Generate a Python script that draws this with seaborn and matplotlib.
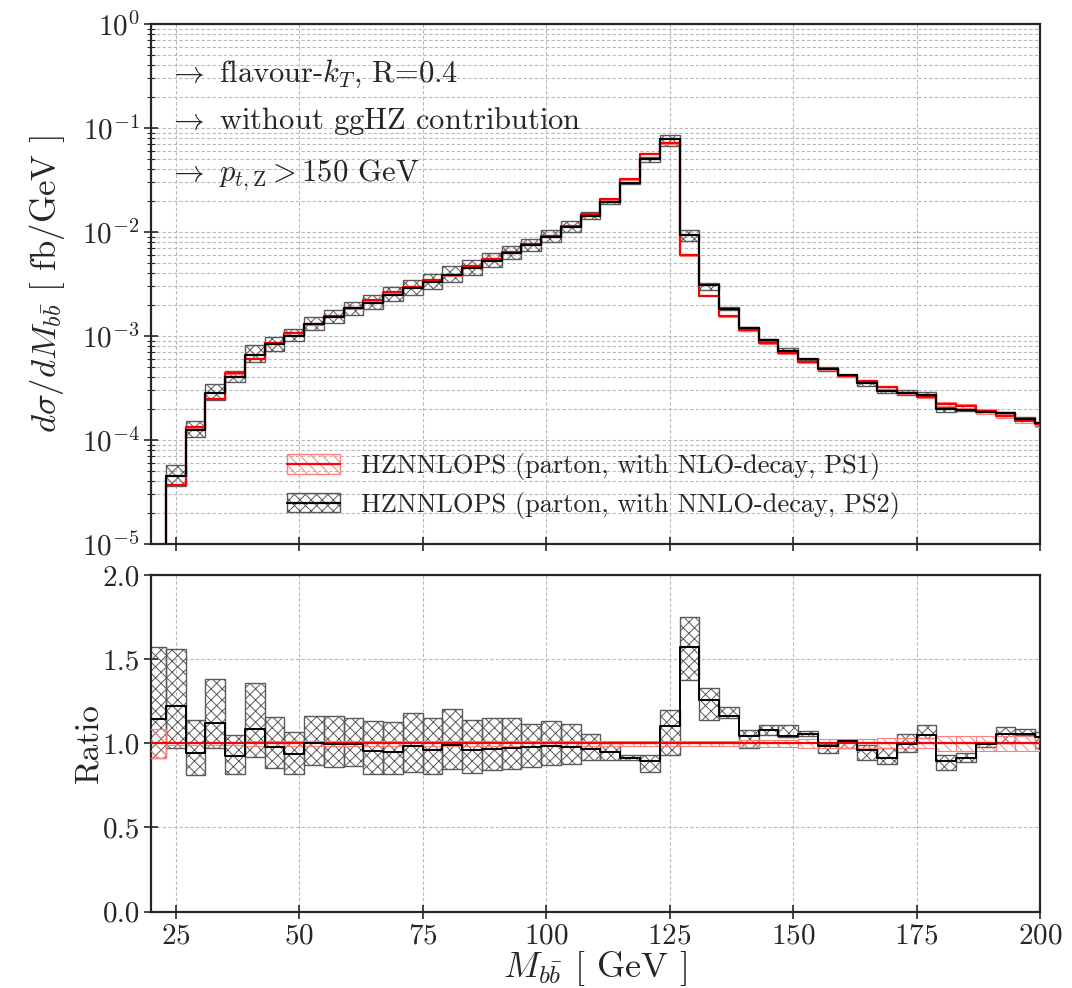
import numpy as np
import matplotlib
matplotlib.use("Agg")
import matplotlib.pyplot as plt
import seaborn as sns
from matplotlib.patches import Patch
from matplotlib.lines import Line2D
from matplotlib.ticker import LogLocator, NullFormatter, MultipleLocator, FormatStrFormatter

# bin edges (GeV)
edges = np.arange(19, 204, 4)

# HZNNLOPS (NLO-decay, PS1) -- reference, fb/GeV
red_vals = [4e-6, 3.7e-5, 1.33e-4, 2.5e-4, 4.4e-4, 6.05e-4, 8.5e-4, 1.08e-3, 1.30e-3, 1.54e-3,
            1.86e-3, 2.2e-3, 2.62e-3, 2.96e-3, 3.45e-3, 3.87e-3, 4.7e-3, 5.45e-3, 6.4e-3, 7.65e-3,
            9.15e-3, 1.14e-2, 1.48e-2, 2.06e-2, 3.2e-2, 5.65e-2, 7.15e-2, 5.95e-3, 2.45e-3, 1.55e-3,
            1.14e-3, 8.5e-4, 6.9e-4, 5.65e-4, 4.88e-4, 4.17e-4, 3.68e-4, 3.2e-4, 2.83e-4, 2.6e-4,
            2.22e-4, 2.12e-4, 1.88e-4, 1.7e-4, 1.52e-4, 1.41e-4]
# relative half-width of the PS1 band
red_err = [0.085, 0.01, 0.01, 0.01, 0.01, 0.015, 0.015, 0.015, 0.015, 0.015,
           0.015, 0.015, 0.015, 0.015, 0.015, 0.015, 0.015, 0.015, 0.015, 0.015,
           0.015, 0.015, 0.015, 0.015, 0.015, 0.015, 0.015, 0.015, 0.015, 0.015,
           0.02, 0.02, 0.02, 0.025, 0.025, 0.025, 0.025, 0.03, 0.03, 0.03,
           0.045, 0.045, 0.045, 0.045, 0.045, 0.045]

# HZNNLOPS (NNLO-decay, PS2) / PS1
ratio_mid = [1.147, 1.22, 0.94, 1.12, 0.925, 1.085, 0.98, 0.935, 1.0, 0.994,
             0.994, 0.952, 0.948, 0.984, 0.958, 0.99, 0.958, 0.964, 0.972, 0.978,
             0.984, 0.978, 0.964, 0.948, 0.915, 0.895, 1.10, 1.573, 1.256, 1.163,
             1.044, 1.08, 1.044, 1.058, 0.982, 1.014, 0.958, 0.915, 0.994, 1.048,
             0.895, 0.91, 0.994, 1.058, 1.058, 1.04]
ratio_hi = [1.57, 1.56, 1.137, 1.385, 1.05, 1.36, 1.157, 1.07, 1.163, 1.163,
            1.153, 1.133, 1.127, 1.18, 1.153, 1.206, 1.137, 1.15, 1.15, 1.113,
            1.13, 1.113, 1.058, 1.0, 0.93, 0.93, 1.2, 1.752, 1.33, 1.216,
            1.077, 1.107, 1.11, 1.073, 0.994, 1.02, 0.99, 0.97, 1.058, 1.11,
            0.93, 0.94, 1.004, 1.097, 1.087, 1.067]
ratio_lo = [0.91, 0.97, 0.81, 0.97, 0.82, 0.92, 0.853, 0.82, 0.873, 0.86,
            0.865, 0.82, 0.82, 0.83, 0.82, 0.845, 0.825, 0.84, 0.85, 0.86,
            0.87, 0.88, 0.90, 0.90, 0.90, 0.83, 0.93, 1.375, 1.137, 1.15,
            0.972, 1.05, 1.04, 1.044, 0.94, 0.97, 0.90, 0.88, 0.95, 1.03,
            0.84, 0.89, 0.98, 1.0, 1.05, 0.97]

labels = ["HZNNLOPS (parton, with NLO-decay, PS1)",
          "HZNNLOPS (parton, with NNLO-decay, PS2)"]
notes = [r"$\rightarrow$ flavour-$k_T$, R=0.4",
         r"$\rightarrow$ without ggHZ contribution",
         r"$\rightarrow$ $p_{t,\mathrm{Z}} > 150$ GeV"]

sns.set_style("ticks")
plt.rcParams["font.family"] = "serif"
plt.rcParams["font.serif"] = ["cmr10"]
plt.rcParams["mathtext.fontset"] = "cm"
plt.rcParams["axes.formatter.use_mathtext"] = True
plt.rcParams["axes.linewidth"] = 1.6
plt.rcParams["hatch.linewidth"] = 0.7

red = np.array(red_vals)
rerr = np.array(red_err)
rmid = np.array(ratio_mid)
rhi = np.array(ratio_hi)
rlo = np.array(ratio_lo)
black = red * rmid
width = np.diff(edges)
lefts = edges[:-1]

RED = "red"
RED_L = "#ff8080"
GRAY = "#5a5a5a"

fig = plt.figure(figsize=(10.72, 9.88), dpi=100)
ax = fig.add_axes([0.1409, 0.4494, 0.8293, 0.5263])
axr = fig.add_axes([0.1409, 0.0773, 0.8293, 0.3407])

grid_kw = dict(color="#b8b8b8", linestyle=(0, (3, 2)), linewidth=0.8)

# ---- top panel ----
ax.bar(lefts, red * rhi - red * rlo, bottom=red * rlo, width=width, align="edge",
       facecolor="none", edgecolor=GRAY, hatch="xxx", linewidth=1.0, zorder=2)
ax.bar(lefts, 2 * red * rerr, bottom=red * (1 - rerr), width=width, align="edge",
       facecolor="none", edgecolor=RED_L, hatch="\\\\\\", linewidth=0.8, zorder=3)
sns.lineplot(x=edges, y=np.append(red, red[-1]), drawstyle="steps-post", color=RED,
             linewidth=1.6, estimator=None, ax=ax, zorder=4)
sns.lineplot(x=edges, y=np.append(black, black[-1]), drawstyle="steps-post", color="black",
             linewidth=1.6, estimator=None, ax=ax, zorder=5)
ax.set_yscale("log")
ax.set_ylim(1e-5, 1)
ax.set_xlim(20, 200)
ax.yaxis.set_major_locator(LogLocator(base=10, numticks=10))
ax.yaxis.set_minor_locator(LogLocator(base=10, subs=np.arange(2, 10), numticks=20))
ax.yaxis.set_minor_formatter(NullFormatter())
ax.xaxis.set_major_locator(MultipleLocator(25))
ax.tick_params(axis="x", labelbottom=False)
ax.grid(True, which="both", axis="y", **grid_kw)
ax.grid(True, which="major", axis="x", **grid_kw)
ax.set_ylabel(r"$d\sigma/dM_{b\bar{b}}$ [ fb/GeV ]", fontsize=25)
ax.yaxis.set_label_coords(-0.0945, 0.5)
note_y = [0.889, 0.799, 0.697]
for t, y in zip(notes, note_y):
    ax.text(0.019, y, t, transform=ax.transAxes, fontsize=22, va="baseline")

h1 = (Patch(facecolor="none", edgecolor=RED_L, hatch="\\\\\\"), Line2D([], [], color=RED, lw=1.6))
h2 = (Patch(facecolor="none", edgecolor=GRAY, hatch="xxx"), Line2D([], [], color="black", lw=1.6))
ax.legend([h1, h2], labels, loc="center left", bbox_to_anchor=(0.153, 0.1115), frameon=False,
          fontsize=19, handlelength=2.0, handleheight=0.75, labelspacing=0.45,
          borderaxespad=0, borderpad=0)

# ---- ratio panel ----
axr.bar(lefts, rhi - rlo, bottom=rlo, width=width, align="edge",
        facecolor="none", edgecolor=GRAY, hatch="xxx", linewidth=1.0, zorder=2)
axr.bar(lefts, 2 * rerr, bottom=1 - rerr, width=width, align="edge",
        facecolor="none", edgecolor=RED_L, hatch="\\\\\\", linewidth=0.8, zorder=3)
sns.lineplot(x=edges, y=np.ones(len(edges)), drawstyle="steps-post", color=RED,
             linewidth=1.6, estimator=None, ax=axr, zorder=4)
sns.lineplot(x=edges, y=np.append(rmid, rmid[-1]), drawstyle="steps-post", color="black",
             linewidth=1.4, estimator=None, ax=axr, zorder=5)
axr.set_xlim(20, 200)
axr.set_ylim(0, 2)
axr.xaxis.set_major_locator(MultipleLocator(25))
axr.yaxis.set_major_locator(MultipleLocator(0.5))
axr.yaxis.set_major_formatter(FormatStrFormatter("%.1f"))
axr.grid(True, which="major", **grid_kw)
axr.set_ylabel("Ratio", fontsize=24)
axr.yaxis.set_label_coords(-0.054, 0.5)
axr.set_xlabel(r"$M_{b\bar{b}}$ [ GeV ]", fontsize=26, labelpad=0)

for a in (ax, axr):
    a.tick_params(which="major", direction="inout", length=10, width=1.2, labelsize=21, pad=3)
    a.tick_params(which="minor", direction="inout", length=6, width=0.8)
    for s in a.spines.values():
        s.set_visible(True)
        s.set_linewidth(1.6)

fig.savefig("out.png", dpi=100)
